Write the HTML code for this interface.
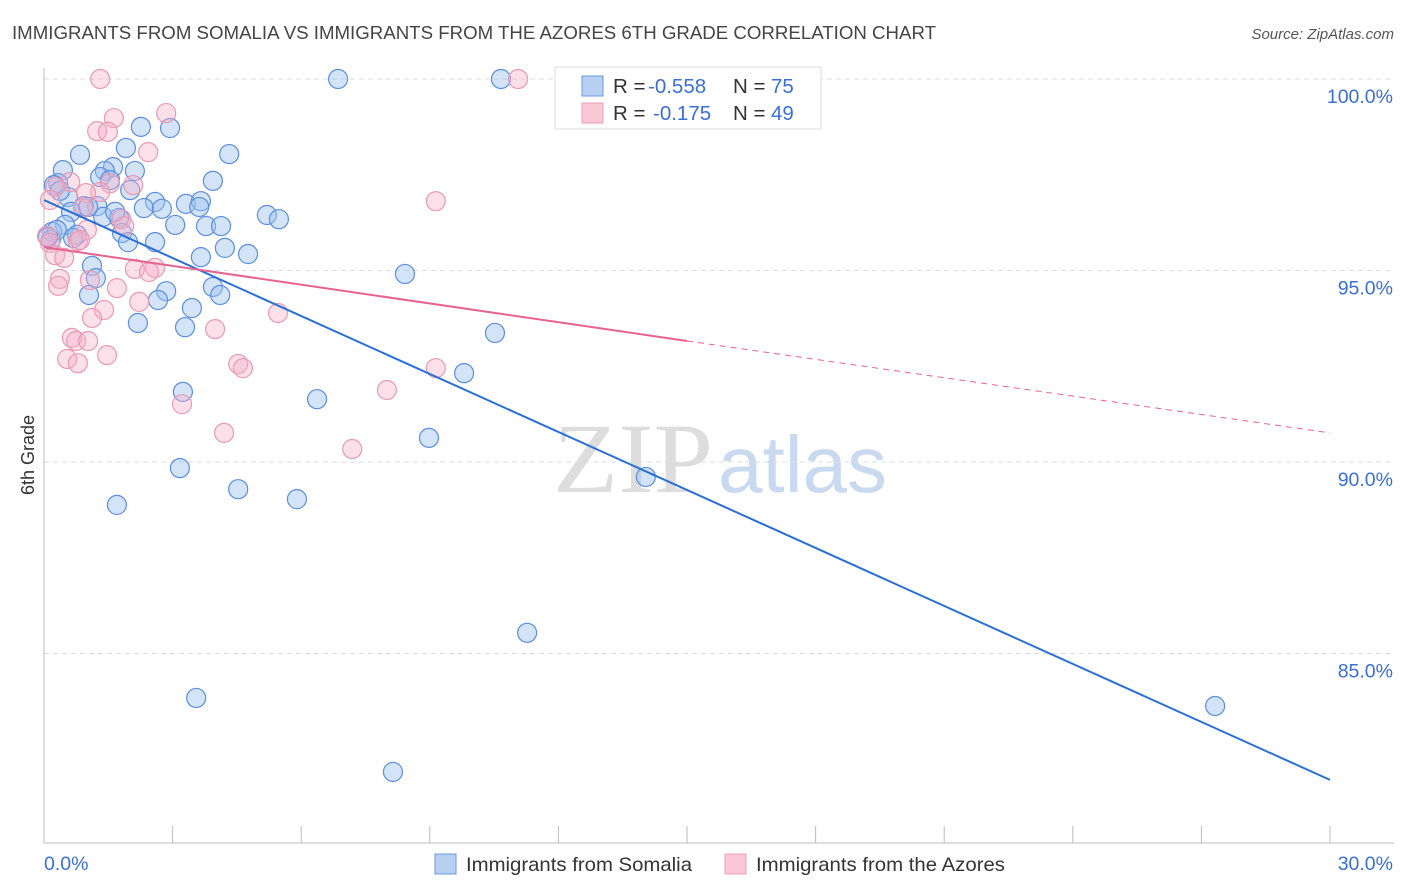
<!DOCTYPE html>
<html><head><meta charset="utf-8"><style>
body{margin:0;background:#fff;font-family:"Liberation Sans",sans-serif}
svg{display:block}
</style></head><body>
<svg id="chart" width="1406" height="892" viewBox="0 0 1406 892">
<text x="12" y="39" font-size="18" fill="#444" textLength="924" lengthAdjust="spacingAndGlyphs">IMMIGRANTS FROM SOMALIA VS IMMIGRANTS FROM THE AZORES 6TH GRADE CORRELATION CHART</text>
<text x="1394" y="39" font-size="15" fill="#555" font-style="italic" text-anchor="end">Source: ZipAtlas.com</text>
<g>
<text x="553" y="492" font-family="Liberation Serif,serif" font-size="100" fill="#ddd" textLength="160" lengthAdjust="spacingAndGlyphs">ZIP</text>
<text x="718" y="492" font-size="80" fill="#c8d9f0">atlas</text>
</g>
<g id="grid"></g>
<g id="axes"></g>
<g id="pts"></g>
<g id="lines"></g>
<text transform="translate(34,455) rotate(-90)" font-size="18" fill="#333" text-anchor="middle">6th Grade</text>
<text x="44" y="870" font-size="19.5" fill="#3b6fd4">0.0%</text>
<text x="1393" y="870" font-size="19.5" fill="#3b6fd4" text-anchor="end">30.0%</text>
<g>
<rect x="555" y="67" width="266" height="62" fill="#fff" stroke="#ddd"/>
<rect x="582" y="76" width="21" height="20" fill="#b7d0f2" stroke="#6a9ae0"/>
<rect x="582" y="103" width="21" height="20" fill="#f9c7d6" stroke="#eaa0b8"/>
<text x="613" y="93" font-size="20.5" fill="#333">R = <tspan x="648" fill="#3b6fd4">-0.558</tspan><tspan x="733">N = </tspan><tspan x="771" fill="#3b6fd4">75</tspan></text>
<text x="613" y="120" font-size="20.5" fill="#333">R = <tspan x="653" fill="#3b6fd4">-0.175</tspan><tspan x="733">N = </tspan><tspan x="771" fill="#3b6fd4">49</tspan></text>
</g>
<g>
<rect x="435" y="854" width="21" height="20" fill="#b7d0f2" stroke="#6a9ae0"/>
<text x="466" y="871" font-size="19.5" fill="#333" textLength="226" lengthAdjust="spacingAndGlyphs">Immigrants from Somalia</text>
<rect x="725" y="854" width="21" height="20" fill="#f9c7d6" stroke="#eaa0b8"/>
<text x="756" y="871" font-size="19.5" fill="#333" textLength="249" lengthAdjust="spacingAndGlyphs">Immigrants from the Azores</text>
</g>
</svg>
<script>
const yTicks=[100,95,90,85];
const yTickLabels=["100.0%","95.0%","90.0%","85.0%"];
const xTicks=[0,3,6,9,12,15,18,21,24,27,30];
const blueX=[6.86,10.66,2.26,2.94,0.84,1.91,4.32,0.44,1.61,1.42,2.12,0.33,0.23,1.31,1.54,3.94,2.01,0.56,1.24,3.31,3.66,2.59,2.33,2.75,3.62,0.93,0.63,1.38,1.75,3.06,3.78,4.13,5.20,5.48,0.49,1.82,0.77,0.19,0.16,1.96,2.59,0.68,4.22,3.66,4.76,1.12,1.21,8.42,3.94,4.11,2.85,1.05,2.66,3.45,2.19,3.29,10.52,9.80,3.24,6.37,8.98,3.17,14.04,4.53,5.90,1.70,11.27,3.55,27.32,8.14,0.30,0.09,0.37,1.03,1.66];
const blueY=[100,100,98.75,98.72,98.02,98.20,98.04,97.62,97.70,97.60,97.60,97.28,97.23,97.44,97.36,97.34,97.10,96.92,96.68,96.74,96.81,96.79,96.63,96.61,96.66,96.68,96.53,96.40,96.37,96.19,96.16,96.16,96.45,96.34,96.19,95.98,95.93,96.01,95.80,95.74,95.74,95.85,95.59,95.35,95.43,95.12,94.80,94.91,94.57,94.36,94.46,94.36,94.23,94.02,93.63,93.52,93.37,92.32,91.83,91.64,90.63,89.84,89.61,89.29,89.03,88.88,85.54,83.84,83.63,81.91,96.06,95.87,97.08,96.66,96.53];
const pinkX=[1.31,11.06,1.63,1.24,1.49,2.85,2.43,0.61,0.26,0.14,1.54,2.08,1.31,0.98,0.91,1.80,1.87,1.00,0.79,0.07,0.14,0.26,0.47,0.84,9.14,2.12,2.59,2.45,0.37,0.33,1.07,1.70,1.40,1.12,2.22,5.46,3.99,0.65,0.75,1.03,0.54,0.79,1.47,4.53,4.64,8.00,9.14,3.22,4.20,7.19];
const pinkY=[100,100,98.98,98.64,98.62,99.11,98.09,97.31,97.18,96.84,97.28,97.23,97.05,97.02,96.63,96.34,96.16,96.06,95.77,95.90,95.72,95.40,95.33,95.80,96.81,95.04,95.07,94.96,94.78,94.60,94.75,94.54,93.97,93.76,94.18,93.89,93.47,93.24,93.16,93.16,92.69,92.58,92.79,92.56,92.45,91.88,92.45,91.51,90.76,90.34];
const blueTrend=[96.84,81.70];
const pinkTrend=[95.61,93.16,90.76];
const NS="http://www.w3.org/2000/svg";
const sx=v=>44+v/30*1286;
const sy=v=>79+(100-v)*38.3;
function mk(tag,attrs,parent){const e=document.createElementNS(NS,tag);for(const k in attrs)e.setAttribute(k,attrs[k]);parent.appendChild(e);return e;}
const grid=document.getElementById('grid'),axes=document.getElementById('axes'),pts=document.getElementById('pts'),lines=document.getElementById('lines');
yTicks.forEach((t,i)=>{
 const l=mk('line',{x1:44,x2:1394,y1:sy(t),y2:sy(t),stroke:'#ddd','stroke-dasharray':'5,4'},grid);
 
 
 const tx=mk('text',{x:1393,y:sy(t)+24,'font-size':19.5,fill:'#3b6fd4','text-anchor':'end'},grid);
 tx.textContent=yTickLabels[i];
 
 
});
const xa=mk('line',{x1:44,x2:1394,y1:843,y2:843,stroke:'#bbb'},axes);


const ya=mk('line',{x1:44,x2:44,y1:68,y2:843,stroke:'#bbb'},axes);


xTicks.forEach(t=>{
 const l=mk('line',{x1:sx(t),x2:sx(t),y1:826,y2:843,stroke:'#bbb'},axes);
 
 
});
function dots(X,Y,fill,stroke,name){X.forEach((x,i)=>{
 const c=mk('circle',{cx:sx(x),cy:sy(Y[i]),r:9.5,fill:fill,stroke:stroke,'stroke-width':1.2},pts);
 
 
});}
dots(blueX,blueY,'rgba(160,195,240,0.45)','#5b8de0','somalia-point');
dots(pinkX,pinkY,'rgba(245,175,200,0.4)','#e99ab3','azores-point');
const bl=mk('line',{x1:sx(0),y1:sy(blueTrend[0]),x2:sx(30),y2:sy(blueTrend[1]),stroke:'#2a6fd6','stroke-width':2},lines);


const pl=mk('line',{x1:sx(0),y1:sy(pinkTrend[0]),x2:sx(15),y2:sy(pinkTrend[1]),stroke:'#e8628f','stroke-width':2},lines);


const pd=mk('line',{x1:sx(15),y1:sy(pinkTrend[1]),x2:sx(30),y2:sy(pinkTrend[2]),stroke:'#e8628f','stroke-width':1,'stroke-dasharray':'6,5'},lines);


</script>
</body></html>
